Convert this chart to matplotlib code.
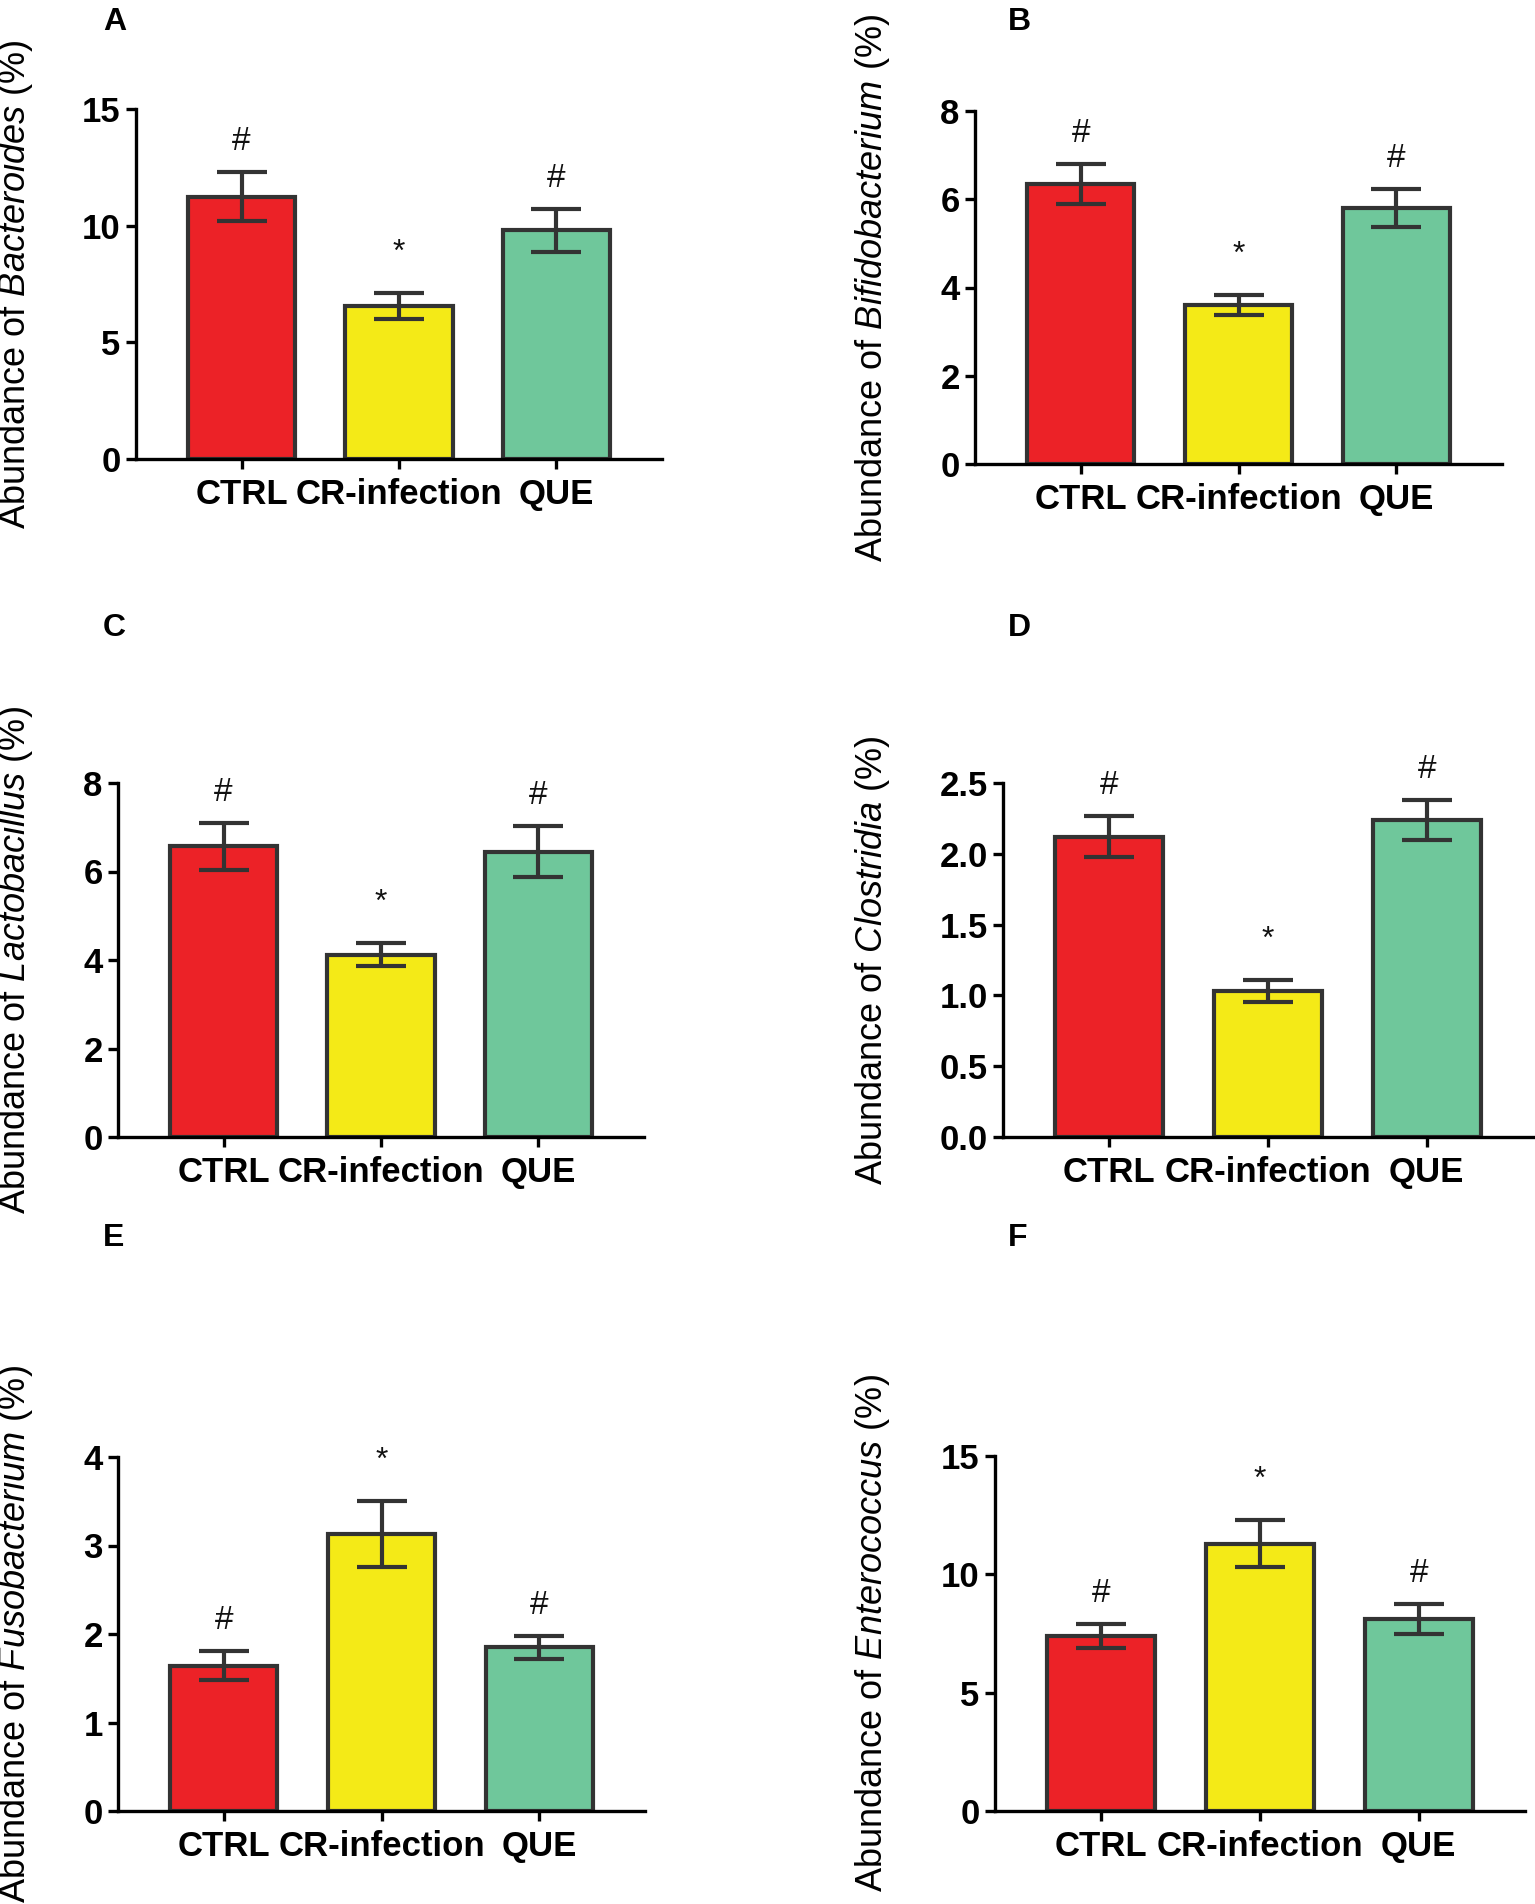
import matplotlib
matplotlib.use("Agg")
import matplotlib.pyplot as plt
from matplotlib.ticker import FormatStrFormatter, MultipleLocator

plt.rcParams['font.family'] = ['Liberation Sans', 'DejaVu Sans']
plt.rcParams['mathtext.fontset'] = 'custom'
plt.rcParams['mathtext.rm'] = 'Liberation Sans'
plt.rcParams['mathtext.it'] = 'Liberation Sans:italic'

categories = ["CTRL", "CR-infection", "QUE"]
colors = ["#EC2227", "#F4EA17", "#6FC79B"]

panel_letters = ["A", "B", "C", "D", "E", "F"]
genera = ["Bacteroides", "Bifidobacterium", "Lactobacillus", "Clostridia", "Fusobacterium", "Enterococcus"]

means_A = [11.25, 6.55, 9.8]
errs_A = [1.05, 0.57, 0.93]
means_B = [6.35, 3.6, 5.8]
errs_B = [0.45, 0.23, 0.44]
means_C = [6.57, 4.12, 6.45]
errs_C = [0.53, 0.26, 0.57]
means_D = [2.12, 1.03, 2.24]
errs_D = [0.145, 0.08, 0.14]
means_E = [1.64, 3.13, 1.85]
errs_E = [0.165, 0.375, 0.13]
means_F = [7.4, 11.3, 8.1]
errs_F = [0.52, 1.0, 0.64]

marks_A = ["#", "*", "#"]
marks_B = ["#", "*", "#"]
marks_C = ["#", "*", "#"]
marks_D = ["#", "*", "#"]
marks_E = ["#", "*", "#"]
marks_F = ["#", "*", "#"]

ymax = [15, 8, 8, 2.5, 4, 15]
ystep = [5, 2, 2, 0.5, 1, 5]

all_means = [means_A, means_B, means_C, means_D, means_E, means_F]
all_errs = [errs_A, errs_B, errs_C, errs_D, errs_E, errs_F]
all_marks = [marks_A, marks_B, marks_C, marks_D, marks_E, marks_F]

W, H = 1535, 1904
fig = plt.figure(figsize=(W / 100, H / 100), dpi=100)

# axes boxes in pixels: left, right, top, bottom
boxes = [
    (136, 662, 109, 459),
    (975, 1502, 111, 464),
    (118, 644, 783, 1137),
    (1003, 1533, 783, 1137),
    (118, 645, 1457, 1811),
    (995, 1525, 1456, 1811),
]
label_x = [16, 872, 16, 872, 16, 872]
letter_pos = [(103, 22), (1008, 22), (103, 628), (1008, 628), (103, 1238), (1008, 1238)]

edge = "#333333"
for i in range(6):
    L, R, T, B = boxes[i]
    ax = fig.add_axes([L / W, 1 - B / H, (R - L) / W, (B - T) / H])
    x = list(range(3))
    ax.bar(x, all_means[i], width=0.68, color=colors, edgecolor=edge, linewidth=3, zorder=2)
    ax.errorbar(x, all_means[i], yerr=all_errs[i], fmt="none", ecolor=edge,
                elinewidth=3, capsize=18, capthick=3, zorder=3)
    for j in range(3):
        top = all_means[i][j] + all_errs[i][j]
        m = all_marks[i][j]
        off = 22 if m == "#" else 29
        ax.annotate(m, (j, top), xytext=(0, off), textcoords="offset points",
                    ha="center", va="center", fontsize=24 if m == "#" else 23, color="#111111")
    ax.set_xlim(-0.67, 2.67)
    ax.set_ylim(0, ymax[i])
    ax.yaxis.set_major_locator(MultipleLocator(ystep[i]))
    if i == 3:
        ax.yaxis.set_major_formatter(FormatStrFormatter('%.1f'))
    else:
        ax.yaxis.set_major_formatter(FormatStrFormatter('%d'))
    ax.set_xticks(x)
    ax.set_xticklabels(categories)
    for s in ["top", "right"]:
        ax.spines[s].set_visible(False)
    for s in ["left", "bottom"]:
        ax.spines[s].set_linewidth(2.4)
        ax.spines[s].set_color("black")
    ax.tick_params(axis="both", width=2.4, length=7, color="black")
    ax.tick_params(axis="y", pad=4, labelsize=25)
    ax.tick_params(axis="x", pad=7, labelsize=25)
    for lab in ax.get_xticklabels() + ax.get_yticklabels():
        lab.set_fontweight("bold")
    ax.patch.set_visible(False)

    cy = 1 - (T + B) / 2 / H
    fig.text(label_x[i] / W, cy, "Abundance of $\\mathit{" + genera[i] + "}$ (%)",
             rotation=90, ha="center", va="center", fontsize=26)
    lx, ly = letter_pos[i]
    fig.text(lx / W, 1 - ly / H, panel_letters[i], ha="left", va="center",
             fontsize=23, fontweight="bold")

fig.savefig("out.png", dpi=100, facecolor="white")
